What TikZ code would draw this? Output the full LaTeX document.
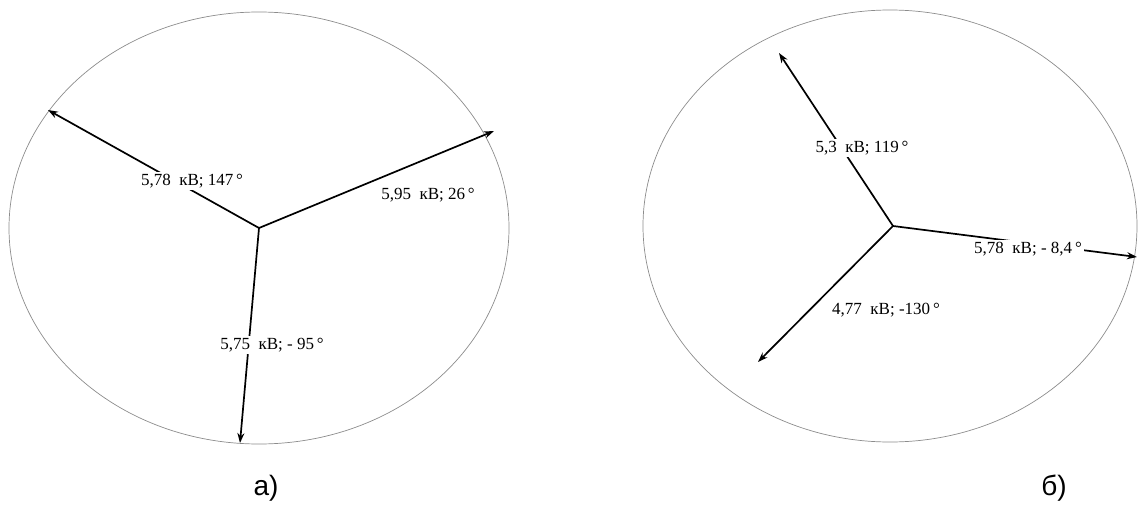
\documentclass[tikz,border=0pt]{standalone}
\usepackage{fontspec}
\setmainfont{Liberation Serif}
\newfontfamily\capfont{Liberation Sans}
\usetikzlibrary{arrows.meta}
\begin{document}
\begin{tikzpicture}[x=1pt,y=-1pt,
  frame/.style={draw=black!45,line width=0.7pt},
  vec/.style={draw=black,line width=1.7pt,-{Stealth[length=10pt,width=7pt]}},
  lbl/.style={fill=white,inner sep=2pt,font=\fontsize{17}{19}\selectfont},
  captext/.style={inner sep=0pt,font=\capfont\fontsize{28}{32}\selectfont}]
\useasboundingbox (0,0) rectangle (1138,506);
% left diagram
\draw[frame] (259,228) ellipse [x radius=250,y radius=216];
\coordinate (O1) at (259,228);
\coordinate (A1) at (48,110);
\coordinate (B1) at (494,131);
\coordinate (C1) at (240,443);
\draw[vec] (O1) -- (A1);
\draw[vec] (O1) -- (B1);
\draw[vec] (O1) -- (C1);
\node[lbl] (la1) at (192,181) {5,78~~кВ; 147\,°};
\node[lbl] (lb1) at (428,195) {5,95~~кВ; 26\,°};
\node[lbl] (lc1) at (272,345) {5,75~~кВ; - 95\,°};
% right diagram
\draw[frame] (890,226) ellipse [x radius=247,y radius=216];
\coordinate (O2) at (893,226);
\coordinate (A2) at (779,53);
\coordinate (B2) at (1137,257);
\coordinate (C2) at (758,362);
\draw[vec] (O2) -- (A2);
\draw[vec] (O2) -- (B2);
\draw[vec] (O2) -- (C2);
\node[lbl] (la2) at (862,148) {5,3~~кВ; 119\,°};
\node[lbl] (lb2) at (1028,249) {5,78~~кВ; - 8,4\,°};
\node[lbl] (lc2) at (886,310) {4,77~~кВ; -130\,°};
% captions
\node[captext] (ca) at (266,488) {а)};
\node[captext] (cb) at (1054,488) {б)};
\end{tikzpicture}
\end{document}
